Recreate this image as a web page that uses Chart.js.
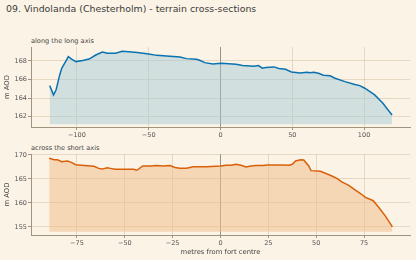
<!DOCTYPE html>
<html>
<head>
<meta charset="utf-8">
<script src="https://cdn.jsdelivr.net/npm/chart.js@4.4.1/dist/chart.umd.min.js"></script>
<style>
  html, body { margin: 0; padding: 0; background: #fbf3e6; }
  body { width: 416px; height: 260px; position: relative; overflow: hidden; font-family: 'DejaVu Sans', sans-serif; }
  #title { position: absolute; left: 6px; top: 3px; font-size: 9.4px; color: #3a3a3a; white-space: nowrap; }
  .sub { position: absolute; left: 31px; font-size: 6.6px; color: #444; white-space: nowrap; }
  canvas { position: absolute; left: 0; }
</style>
</head>
<body>
<div id="title">09. Vindolanda (Chesterholm) - terrain cross-sections</div>
<div class="sub" style="top:37px">along the long axis</div>
<div class="sub" style="top:144px">across the short axis</div>
<canvas id="longChart" width="416" height="105" style="top:40px"></canvas>
<canvas id="shortChart" width="416" height="109" style="top:147px"></canvas>
<script>
// long axis profile (metres from centre, m AOD)
const longX = [-119, -116.3, -114.5, -112, -110.6, -108, -106, -103.7, -100.7, -96, -91.5, -86.9, -82.3, -78.8, -73, -68.5, -64, -58, -50, -44.4, -37.5, -28.3, -23.7, -16.8, -14.5, -11, -5.3, 0.5, 10.8, 15.4, 23.4, 26.4, 29.2, 31.5, 37.2, 40.7, 45.3, 49.4, 55.6, 60.2, 62.5, 64.8, 68.3, 71.7, 76.3, 79.8, 86.7, 93.6, 97, 100.5, 107.4, 113, 116.6, 119.5];
const longY = [165.35, 164.35, 164.9, 166.5, 167.2, 167.9, 168.46, 168.2, 167.93, 168.04, 168.2, 168.64, 168.96, 168.82, 168.82, 169.04, 169.0, 168.9, 168.75, 168.6, 168.54, 168.43, 168.25, 168.18, 168.07, 167.82, 167.68, 167.75, 167.65, 167.5, 167.43, 167.5, 167.22, 167.3, 167.36, 167.18, 167.1, 166.82, 166.7, 166.79, 166.72, 166.78, 166.68, 166.47, 166.4, 166.14, 165.78, 165.46, 165.35, 165.07, 164.35, 163.47, 162.75, 162.2];
// short axis profile
const shortX = [-89.5, -86.9, -85.2, -82.9, -80, -78.2, -75.6, -71.3, -66.1, -63.6, -61.8, -59.2, -57.5, -55, -45.4, -43.7, -40.6, -36.8, -33.3, -29.9, -26.4, -23.8, -21.2, -17.8, -14.3, -7.4, 0, 2.9, 5.5, 8.1, 10.7, 13.3, 15.9, 18.5, 22, 24.5, 28.8, 32.3, 35.8, 37.5, 39.2, 41.8, 43.5, 46.1, 47.3, 52.2, 54.8, 58.2, 60.8, 63.4, 66.8, 70.3, 73.7, 75.5, 79.8, 82.4, 85.9, 89.8];
const shortY = [169.3, 169.02, 169.0, 168.6, 168.74, 168.5, 167.97, 167.8, 167.63, 167.2, 167.05, 167.35, 167.2, 167.0, 167.0, 166.8, 167.7, 167.7, 167.8, 167.7, 167.8, 167.4, 167.25, 167.25, 167.55, 167.55, 167.7, 167.85, 167.85, 168.05, 167.85, 167.5, 167.7, 167.8, 167.8, 167.9, 167.9, 167.9, 167.85, 168.05, 168.74, 169.0, 168.95, 167.7, 166.73, 166.58, 166.17, 165.6, 165.1, 164.4, 163.7, 162.7, 161.8, 161.2, 160.45, 159.2, 157.4, 155.0];

const longXTicks = [-100, -50, 0, 50, 100];
const longYTicks = [162, 164, 166, 168];
const shortXTicks = [-75, -50, -25, 0, 25, 50, 75];
const shortYTicks = [155, 160, 165, 170];

const gridCol = 'rgba(205,185,150,0.45)';
const spineCol = '#a09480';
const tickCol = '#555';

function fmt(v) {
    return v < 0 ? '\u2212' + Math.abs(v) : String(v);
}

function makeChart(id, xs, ys, xTicks, yTicks, xr, yr, line, fill, axisH, xTitle) {
    const pts = xs.map((x, i) => ({ x: x, y: ys[i] }));
    const base = Math.min.apply(null, ys) - 1;
    return new Chart(document.getElementById(id).getContext('2d'), {
        type: 'line',
        data: {
            datasets: [{
                data: pts,
                borderColor: line,
                backgroundColor: fill,
                borderWidth: 1.5,
                pointRadius: 0,
                tension: 0,
                fill: { value: base }
            }]
        },
        options: {
            responsive: false,
            animation: false,
            layout: { padding: { top: 7, right: 6, left: 0, bottom: 0 } },
            plugins: { legend: { display: false }, tooltip: { enabled: false } },
            scales: {
                x: {
                    type: 'linear',
                    min: xr[0], max: xr[1],
                    afterBuildTicks: s => { s.ticks = xTicks.map(v => ({ value: v })); },
                    afterFit: s => { s.height = axisH; },
                    grid: {
                        color: c => (c.tick && c.tick.value === 0) ? '#9a9288' : gridCol,
                        lineWidth: 1,
                        tickLength: 3,
                        tickColor: spineCol
                    },
                    border: { color: spineCol, width: 1 },
                    ticks: { color: tickCol, font: { family: 'DejaVu Sans', size: 6.5 }, padding: 1, maxRotation: 0, callback: v => fmt(v) },
                    title: xTitle ? { display: true, text: xTitle, color: '#444', font: { family: 'DejaVu Sans', size: 6.8 }, padding: { top: 1, bottom: 0 } } : { display: false }
                },
                y: {
                    min: yr[0], max: yr[1],
                    afterBuildTicks: s => { s.ticks = yTicks.map(v => ({ value: v })); },
                    afterFit: s => { s.width = 31; },
                    grid: { color: gridCol, lineWidth: 1, tickLength: 3, tickColor: spineCol },
                    border: { color: spineCol, width: 1 },
                    ticks: { color: tickCol, font: { family: 'DejaVu Sans', size: 6.5 }, padding: 1, callback: v => fmt(v) },
                    title: { display: true, text: 'm AOD', color: '#444', font: { family: 'DejaVu Sans', size: 6.8 }, padding: { top: 3, bottom: 0 } }
                }
            }
        }
    });
}

makeChart('longChart', longX, longY, longXTicks, longYTicks, [-132, 132], [160.9, 169.5], '#0a72b0', 'rgba(160,200,215,0.45)', 18, null);
makeChart('shortChart', shortX, shortY, shortXTicks, shortYTicks, [-99, 99], [153.3, 170.2], '#d9600a', 'rgba(240,190,140,0.55)', 21, 'metres from fort centre');
</script>
</body>
</html>
